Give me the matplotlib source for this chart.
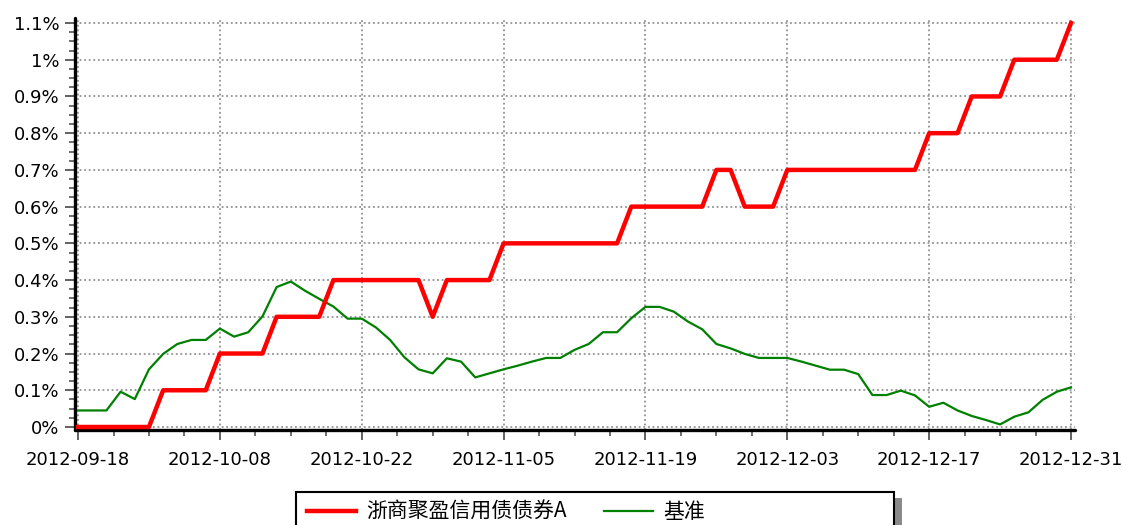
import numpy as np
import matplotlib
matplotlib.use("Agg")
import matplotlib.pyplot as plt
from matplotlib.ticker import MultipleLocator, FuncFormatter
from matplotlib.patches import Rectangle

# 净值增长率对比 (单位: %)
fund_name = "浙商聚盈信用债债券A"
bench_name = "基准"

fund = [0, 0, 0, 0, 0, 0, 0.1, 0.1, 0.1, 0.1,
        0.2, 0.2, 0.2, 0.2, 0.3, 0.3, 0.3, 0.3, 0.4, 0.4,
        0.4, 0.4, 0.4, 0.4, 0.4, 0.3, 0.4, 0.4, 0.4, 0.4,
        0.5, 0.5, 0.5, 0.5, 0.5, 0.5, 0.5, 0.5, 0.5, 0.6,
        0.6, 0.6, 0.6, 0.6, 0.6, 0.7, 0.7, 0.6, 0.6, 0.6,
        0.7, 0.7, 0.7, 0.7, 0.7, 0.7, 0.7, 0.7, 0.7, 0.7,
        0.8, 0.8, 0.8, 0.9, 0.9, 0.9, 1.0, 1.0, 1.0, 1.0,
        1.1]

bench = [0.045, 0.045, 0.045, 0.096, 0.076, 0.157, 0.199, 0.226, 0.237, 0.237,
         0.268, 0.246, 0.258, 0.301, 0.381, 0.396, 0.371, 0.349, 0.328, 0.295,
         0.295, 0.271, 0.237, 0.190, 0.157, 0.146, 0.187, 0.178, 0.135, 0.146,
         0.157, 0.167, 0.178, 0.188, 0.188, 0.210, 0.226, 0.258, 0.258, 0.296,
         0.327, 0.327, 0.314, 0.287, 0.266, 0.226, 0.214, 0.199, 0.188, 0.188,
         0.188, 0.178, 0.167, 0.156, 0.156, 0.144, 0.087, 0.087, 0.099, 0.086,
         0.055, 0.066, 0.045, 0.030, 0.019, 0.007, 0.028, 0.040, 0.074, 0.096,
         0.108]

date_labels = ["2012-09-18", "2012-10-08", "2012-10-22", "2012-11-05",
               "2012-11-19", "2012-12-03", "2012-12-17", "2012-12-31"]
date_pos = [0, 10, 20, 30, 40, 50, 60, 70]

plt.rcParams['font.family'] = ['DejaVu Sans']

W, H = 1122, 525
fig = plt.figure(figsize=(W / 100, H / 100), dpi=100)
ax = fig.add_axes([74.5 / W, (H - 430) / H, (1075 - 74.5) / W, (430 - 18) / H])

x = np.arange(len(fund))
ax.plot(x, bench, color="#008000", lw=1.6, label=bench_name, zorder=3)
ax.plot(x, fund, color="#ff0000", lw=3.2, label=fund_name, zorder=4,
        solid_joinstyle="round")

ax.set_xlim(-0.25, 70.28)
ax.set_ylim(-0.0082, 1.1136)

ax.set_xticks(date_pos)
ax.set_xticklabels(date_labels)
ax.xaxis.set_minor_locator(MultipleLocator(2.5))
ax.yaxis.set_major_locator(MultipleLocator(0.1))
ax.yaxis.set_minor_locator(MultipleLocator(0.025))
ax.yaxis.set_major_formatter(FuncFormatter(lambda v, p: "{:g}%".format(round(v, 1))))

ax.tick_params(axis="both", which="major", labelsize=13, color="#555555",
               length=7, width=1.3, labelcolor="black")
ax.tick_params(axis="both", which="minor", color="#555555", length=4, width=1.2)
ax.tick_params(axis="x", which="major", pad=8)
ax.tick_params(axis="y", which="major", pad=4)

ax.grid(True, which="major", color="#808080", linestyle=(0, (1.2, 1.8)), lw=1.1)
for s in ["top", "right"]:
    ax.spines[s].set_visible(False)
for s in ["left", "bottom"]:
    ax.spines[s].set_linewidth(2.4)
    ax.spines[s].set_color("black")
    ax.spines[s].set_capstyle("round")

# 图例框 (带阴影)
fig.patches.append(Rectangle((302 / W, -0.1), 600 / W, (H - 498) / H + 0.1,
                             transform=fig.transFigure, facecolor="#8a8a8a",
                             edgecolor="none", zorder=1))
fig.patches.append(Rectangle((296 / W, -0.1), 598 / W, (H - 492) / H + 0.1,
                             transform=fig.transFigure, facecolor="white",
                             edgecolor="black", lw=1.5, zorder=2))

h, l = ax.get_legend_handles_labels()
leg = fig.legend(h[::-1], l[::-1], loc="center left",
                 bbox_to_anchor=(307 / W, (H - 512) / H), ncol=2,
                 frameon=False, borderpad=0, borderaxespad=0,
                 handlelength=2.35, handletextpad=0.48, columnspacing=1.8,
                 prop={"family": ["Noto Sans CJK SC", "DejaVu Sans"], "size": 15})
leg.set_zorder(5)

fig.savefig("out.png", dpi=100)
